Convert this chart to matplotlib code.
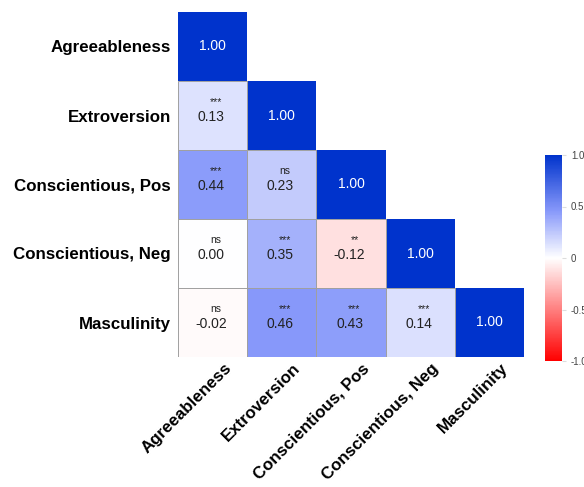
import numpy as np
import matplotlib
matplotlib.use('Agg')
from matplotlib import pyplot as plt
from matplotlib.colors import LinearSegmentedColormap, Normalize
from matplotlib.patches import Rectangle
import matplotlib.transforms as mtransforms

plt.rcParams['font.family'] = ['Liberation Sans', 'DejaVu Sans']

labels = ['Agreeableness', 'Extroversion', 'Conscientious, Pos',
          'Conscientious, Neg', 'Masculinity']

# lower triangle correlations, row by row
corr_rows = [
    [1.00],
    [0.13, 1.00],
    [0.44, 0.23, 1.00],
    [0.00, 0.35, -0.12, 1.00],
    [-0.02, 0.46, 0.43, 0.14, 1.00],
]
sig_rows = [
    [''],
    ['***', ''],
    ['***', 'ns', ''],
    ['ns', '***', '**', ''],
    ['ns', '***', '***', '***', ''],
]

n = len(labels)
corr = np.full((n, n), np.nan)
for i, row in enumerate(corr_rows):
    corr[i, :len(row)] = row

cmap = LinearSegmentedColormap.from_list(
    'rwb', [(0.0, '#FF0000'), (0.5, '#FFFFFF'), (0.73, '#8798FA'), (1.0, '#0033CC')])
norm = Normalize(-1, 1)

fig = plt.figure(figsize=(5.84, 4.87), dpi=100)
ax = fig.add_axes([178/584, 130/487, 346/584, 345/487])

for i in range(n):
    for j in range(i + 1):
        v = corr[i, j]
        if i == j:
            ax.add_patch(Rectangle((j, i), 1, 1, facecolor=cmap(norm(v)),
                                   edgecolor='none', zorder=1))
            ax.text(j + 0.5, i + 0.5, '%.2f' % v, ha='center', va='center',
                    color='white', fontsize=10)
        else:
            ax.add_patch(Rectangle((j, i), 1, 1, facecolor=cmap(norm(v)),
                                   edgecolor='#a0a0a0', linewidth=0.7, zorder=2))
            ax.text(j + 0.48, i + 0.52, '%.2f' % v, ha='center', va='center',
                    color='#222222', fontsize=10, zorder=3)
            ax.text(j + 0.55, i + 0.31, sig_rows[i][j], ha='center', va='center',
                    color='#222222', fontsize=7.5, zorder=3)

ax.set_xlim(0, n)
ax.set_ylim(n, 0)
ax.set_xticks(np.arange(n) + 0.5)
ax.set_yticks(np.arange(n) + 0.5)
ax.set_xticklabels(labels, rotation=45, ha='right', rotation_mode='anchor',
                   fontsize=12.2, fontweight='bold')
ax.set_yticklabels(labels, fontsize=12.2, fontweight='bold')
ax.tick_params(axis='y', length=0, pad=5)
ax.tick_params(axis='x', length=0, pad=4)
shift = mtransforms.ScaledTranslation(11/100, 2/100, fig.dpi_scale_trans)
for lab in ax.get_xticklabels():
    lab.set_transform(lab.get_transform() + shift)
for s in ax.spines.values():
    s.set_visible(False)

cax = fig.add_axes([545/584, 126/487, 17/584, 206/487])
sm = plt.cm.ScalarMappable(norm=norm, cmap=cmap)
cb = fig.colorbar(sm, cax=cax, ticks=[-1, -0.5, 0, 0.5, 1])
cb.ax.set_yticklabels(['-1.0', '-0.5', '0', '0.5', '1.0'])
cb.ax.tick_params(labelsize=7, length=3, color='#dddddd', labelcolor='#444444')
cb.outline.set_visible(False)

fig.savefig('out.png', dpi=100)
